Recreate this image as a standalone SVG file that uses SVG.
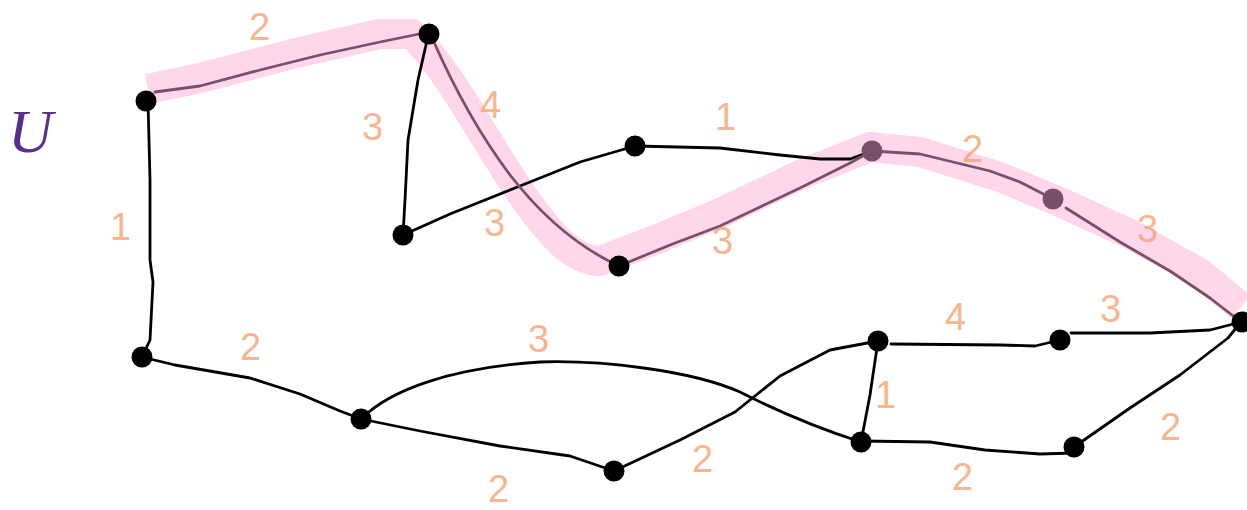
<svg xmlns="http://www.w3.org/2000/svg" width="1247" height="510" viewBox="0 0 1247 510">
<style>
.edge{fill:none;stroke:#000;stroke-width:2.8;stroke-linecap:round;stroke-linejoin:round}
.hl{fill:none;stroke:#7a5068;stroke-width:2.8;stroke-linecap:round;stroke-linejoin:round}
.band{fill:none;stroke:#ffd6ea;stroke-width:30;stroke-linejoin:round}
.node{fill:#000}
.pnode{fill:#7a5068}
.lbl{font-family:"Liberation Sans",Arial,sans-serif;font-size:38px;fill:#f6a477;opacity:0.8}
.title{font-family:"Liberation Serif",serif;font-style:italic;font-size:62px;fill:#5a2d91}
</style>
<rect width="1247" height="510" fill="#fff"/>
<path class="band" d="M148,89 L200,78 L300,52 L380,34 L412,34 C450,72 480,132 520,192 C555,242 575,260 600,261 L650,242 L720,213 L800,175 L870,147 L920,152 L1000,177 L1060,202 L1130,234 L1200,273 L1241,307"/>
<g id="connectors">
<path id="e-A-I" class="edge" d="M148,101 L150,180 L150,260 L153,282 L150,340 L142,357"/>
<path id="e-B-C" class="edge" d="M426,45 L418,80 L408,140 L405,200 L403,235"/>
<path id="e-C-D" class="edge" d="M403,235 L450,214 L525,184 L580,162 L635,146"/>
<path id="e-D-F" class="edge" d="M635,146 L720,148 L780,155 L820,159 L850,159 L872,151"/>
<path id="e-I-J" class="edge" d="M142,357 L175,365 L250,378 L300,394 L340,411 L361,419"/>
<path id="e-J-N" class="edge" d="M361,419 C390,390 450,368 540,362 C600,360 690,370 740,392 C785,415 830,432 861,442"/>
<path id="e-J-K" class="edge" d="M361,419 L420,431 L500,446 L570,456 L614,471"/>
<path id="e-K-L" class="edge" d="M614,471 L680,440 L735,412 L780,376 L830,350 L878,341"/>
<path id="e-L-N" class="edge" d="M878,341 L870,395 L861,442"/>
<path id="e-L-M" class="edge" d="M891,344 L1000,345 L1035,346 L1060,340"/>
<path id="e-M-H" class="edge" d="M1071,333 L1150,333 L1210,330 L1241,322"/>
<path id="e-N-O" class="edge" d="M861,441 L930,442 L985,450 L1040,454 L1074,453"/>
<path id="e-O-H" class="edge" d="M1074,447 L1130,408 L1180,375 L1228,338 L1241,322"/>
<path id="e-A-B" class="hl" d="M155,92 L200,86 L260,70 L320,55 L380,42 L429,32"/>
<path id="e-B-E" class="hl" d="M433,40 C455,90 480,135 510,175 C545,220 580,248 619,266"/>
<path id="e-E-F" class="hl" d="M619,266 L670,245 L720,226 L760,207 L800,188 L850,163 L872,151"/>
<path id="e-F-G" class="hl" d="M872,151 L920,154 L990,171 L1020,182 L1053,199"/>
<path id="e-G-H" class="hl" d="M1066,208 L1120,242 L1170,271 L1210,298 L1241,322"/>
</g>
<g id="A"><circle class="node" cx="146" cy="101" r="10.5"/></g>
<g id="B"><circle class="node" cx="429" cy="34" r="10.5"/></g>
<g id="C"><circle class="node" cx="403" cy="235" r="10.5"/></g>
<g id="D"><circle class="node" cx="635" cy="146" r="10.5"/></g>
<g id="E"><circle class="node" cx="619" cy="266" r="10.5"/></g>
<g id="F"><circle class="pnode" cx="872" cy="151" r="10.5"/></g>
<g id="G"><circle class="pnode" cx="1053" cy="199" r="10.5"/></g>
<g id="H"><circle class="node" cx="1242" cy="322" r="10.5"/></g>
<g id="I"><circle class="node" cx="142" cy="357" r="10.5"/></g>
<g id="J"><circle class="node" cx="361" cy="419" r="10.5"/></g>
<g id="K"><circle class="node" cx="614" cy="471" r="10.5"/></g>
<g id="L"><circle class="node" cx="878" cy="341" r="10.5"/></g>
<g id="M"><circle class="node" cx="1060" cy="340" r="10.5"/></g>
<g id="N"><circle class="node" cx="861" cy="442" r="10.5"/></g>
<g id="O"><circle class="node" cx="1074" cy="447" r="10.5"/></g>
<g id="labels">
<text class="title" x="8" y="152">U</text>
<text class="lbl" x="249" y="40">2</text>
<text class="lbl" x="110" y="240">1</text>
<text class="lbl" x="362" y="140">3</text>
<text class="lbl" x="480" y="118">4</text>
<text class="lbl" x="484" y="236">3</text>
<text class="lbl" x="715" y="130">1</text>
<text class="lbl" x="712" y="254">3</text>
<text class="lbl" x="962" y="162">2</text>
<text class="lbl" x="1137" y="242">3</text>
<text class="lbl" x="240" y="360">2</text>
<text class="lbl" x="528" y="352">3</text>
<text class="lbl" x="488" y="502">2</text>
<text class="lbl" x="692" y="472">2</text>
<text class="lbl" x="945" y="330">4</text>
<text class="lbl" x="1100" y="322">3</text>
<text class="lbl" x="875" y="408">1</text>
<text class="lbl" x="952" y="490">2</text>
<text class="lbl" x="1160" y="440">2</text>
</g>
</svg>
